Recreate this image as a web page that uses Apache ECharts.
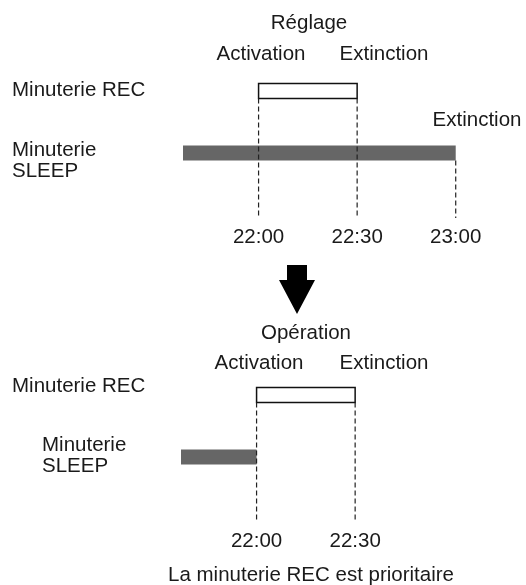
<!DOCTYPE html>
<html>
<head>
<meta charset="utf-8">
<script src="https://cdn.jsdelivr.net/npm/echarts@6/dist/echarts.min.js"></script>
<style>
  html, body { margin: 0; padding: 0; background: #fff; }
  #chart { width: 526px; height: 585px; }
</style>
</head>
<body>
<div id="chart"></div>
<script>
// ---- data ----
const rowLabels = ['Minuterie REC', 'Minuterie\nSLEEP'];
const panelTitles = ['Réglage', 'Opération'];
const eventLabels = ['Activation', 'Extinction'];
const sleepEndLabel = 'Extinction';
const caption = 'La minuterie REC est prioritaire';
const recTimer = ['22:00', '22:30'];
const sleepSetting = ['21:37', '23:00'];
const sleepOperation = ['21:37', '22:00'];
const settingTicks = ['22:00', '22:30', '23:00'];
const operationTicks = ['22:00', '22:30'];

// ---- helpers ----
const toMin = s => { const p = s.split(':'); return (+p[0]) * 60 + (+p[1]); };
const fmt = v => { const h = Math.floor(v / 60), m = v % 60; return h + ':' + (m < 10 ? '0' : '') + m; };
const FONT = "20.5px 'Liberation Sans', Arial, sans-serif";
const TXT = '#1a1a1a';

function marksFor(sleep) {
  return [
    [0, toMin(recTimer[0]), toMin(recTimer[1])],
    [1, toMin(sleep[0]), toMin(sleep[1])]
  ];
}
function dropsFor(marks, ticks) {
  const out = [];
  ticks.forEach(t => {
    const v = toMin(t);
    let best = null;
    marks.forEach(m => {
      if ((m[1] === v || m[2] === v) && (best === null || m[0] < best)) best = m[0];
    });
    if (best !== null) out.push([v, best]);
  });
  return out;
}

const BAR_FRAC = 0.24;
function barRender(params, api) {
  const row = api.value(0), s = api.value(1), e = api.value(2);
  const p0 = api.coord([s, row]), p1 = api.coord([e, row]);
  const h = api.size([0, 1])[1] * BAR_FRAC;
  if (row === 0) {
    return { type: 'rect', shape: { x: p0[0], y: p0[1] - h / 2, width: p1[0] - p0[0], height: h },
      style: { fill: '#ffffff', stroke: '#111111', lineWidth: 1.5 } };
  }
  return { type: 'rect', shape: { x: p0[0], y: p0[1] - h / 2, width: p1[0] - p0[0], height: h },
    style: { fill: '#666666' } };
}
function dropRender(params, api) {
  const v = api.value(0), row = api.value(1);
  const p = api.coord([v, row]);
  const h = api.size([0, 1])[1] * BAR_FRAC;
  const cs = params.coordSys;
  return { type: 'line', shape: { x1: p[0], y1: p[1] + h / 2, x2: p[0], y2: cs.y + cs.height },
    style: { stroke: '#222222', lineWidth: 1.2, lineDash: [5, 3] } };
}

const topMarks = marksFor(sleepSetting);
const botMarks = marksFor(sleepOperation);

function xAxisFor(gridIndex, ticks) {
  const tv = ticks.map(toMin);
  return {
    type: 'value', gridIndex: gridIndex, min: 1290, max: 1395, interval: 30,
    axisLine: { show: false }, axisTick: { show: false }, splitLine: { show: false },
    axisLabel: {
      margin: 9, fontSize: 20.5, color: TXT, fontFamily: "'Liberation Sans', Arial, sans-serif",
      formatter: v => tv.indexOf(v) >= 0 ? fmt(v) : ''
    }
  };
}
function yAxisFor(gridIndex) {
  return { type: 'value', gridIndex: gridIndex, inverse: true, min: -0.5, max: 2.05, show: false };
}

function txt(text, x, y, align, lh) {
  return { type: 'text', silent: true, style: {
    text: text, x: x, y: y, font: FONT, fill: TXT,
    textAlign: align, align: align, textVerticalAlign: 'middle', verticalAlign: 'middle',
    lineHeight: lh || 24
  } };
}

const chart = echarts.init(document.getElementById('chart'), null, { renderer: 'canvas' });
chart.setOption({
  animation: false,
  backgroundColor: '#ffffff',
  grid: [
    { left: 160, width: 345, top: 60, height: 158 },
    { left: 158, width: 345, top: 364, height: 158 }
  ],
  xAxis: [xAxisFor(0, settingTicks), xAxisFor(1, operationTicks)],
  yAxis: [yAxisFor(0), yAxisFor(1)],
  series: [
    { type: 'custom', xAxisIndex: 0, yAxisIndex: 0, renderItem: barRender, data: topMarks, z: 2,
      encode: { x: [1, 2], y: 0 } },
    { type: 'custom', xAxisIndex: 0, yAxisIndex: 0, renderItem: dropRender, data: dropsFor(topMarks, settingTicks), z: 3,
      encode: { x: 0, y: 1 } },
    { type: 'custom', xAxisIndex: 1, yAxisIndex: 1, renderItem: barRender, data: botMarks, z: 2,
      encode: { x: [1, 2], y: 0 } },
    { type: 'custom', xAxisIndex: 1, yAxisIndex: 1, renderItem: dropRender, data: dropsFor(botMarks, operationTicks), z: 3,
      encode: { x: 0, y: 1 } }
  ],
  graphic: [
    txt(panelTitles[0], 309, 23, 'center'),
    txt(eventLabels[0], 261, 54, 'center'),
    txt(eventLabels[1], 384, 54, 'center'),
    txt(rowLabels[0], 12, 90, 'left'),
    txt(sleepEndLabel, 477, 120, 'center'),
    txt(rowLabels[1], 12, 161, 'left', 20.5),
    { type: 'polygon', silent: true,
      shape: { points: [[287, 265], [307, 265], [307, 280], [315, 280], [297, 314], [279, 280], [287, 280]] },
      style: { fill: '#000000' } },
    txt(panelTitles[1], 306, 333, 'center'),
    txt(eventLabels[0], 259, 363, 'center'),
    txt(eventLabels[1], 384, 363, 'center'),
    txt(rowLabels[0], 12, 386, 'left'),
    txt(rowLabels[1], 42, 456, 'left', 21.5),
    txt(caption, 311, 575, 'center')
  ]
});
</script>
</body>
</html>
